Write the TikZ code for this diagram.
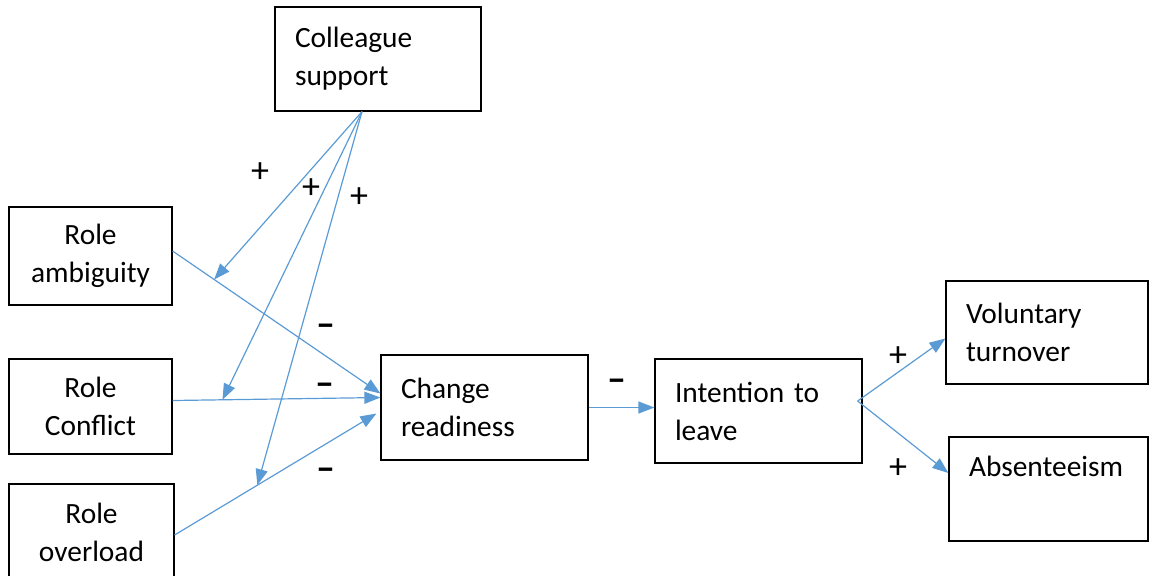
\documentclass[tikz,border=0pt]{standalone}
\usepackage{fontspec}
\setmainfont{Carlito}
\usepackage{tikz}
\usetikzlibrary{arrows.meta, calc}
\definecolor{linkblue}{HTML}{5B9BD5}
\tikzstyle{box} = [rectangle, draw, line width=0.6pt, inner xsep=10pt, inner ysep=0pt, font=\fontsize{14.7}{19}\selectfont]
\tikzstyle{leftbox} = [box, inner xsep=2pt, align=center]
\tikzstyle{textbox} = [box, align=left]
\tikzstyle{arrow} = [linkblue, line width=0.6pt, -{Triangle[length=8pt,width=6pt]}]
\tikzstyle{plus} = [inner sep=0pt, font=\fontsize{18}{19}\selectfont]
\tikzstyle{minus} = [inner sep=0pt, font=\fontsize{19}{19}\selectfont\bfseries]

\begin{document}
\begin{tikzpicture}[x=0.5pt, y=-0.5pt]
  \useasboundingbox (0,0) rectangle (1149,575);
  \node (cs) [textbox, text width=83pt, minimum height=52pt] at (378,59) {Colleague\\support};
  \node (ra) [leftbox, minimum width=81.5pt, minimum height=49pt] at (90.5,256) {Role\\ambiguity};
  \node (rc) [leftbox, minimum width=81.5pt, minimum height=47.5pt] at (90.5,406.5) {Role\\Conflict};
  \node (rov) [leftbox, minimum width=82.5pt, minimum height=48pt] at (91.5,532) {Role\\overload};
  \node (cr) [textbox, text width=83.5pt, minimum height=52.5pt] at (484.5,407.5) {Change\\readiness};
  \node (il) [textbox, text width=83.5pt, minimum height=52pt] at (758.5,411) {Intention to\\leave};
  \node (vt) [textbox, text width=81pt, minimum height=51.5pt] at (1047,332.5) {Voluntary\\turnover};
  \node (ab) [textbox, text width=79.5pt, minimum height=52pt, text depth=22.5pt] at (1048.5,489) {Absenteeism};

  \coordinate (csout) at ([xshift=-8pt]cs.south);
  \coordinate (split) at ([xshift=-2.5pt, yshift=5pt]il.east);

  \draw [arrow] ([yshift=2.5pt]ra.east) -- ([yshift=7pt]cr.west) coordinate[pos=0.2] (ma);
  \draw [arrow] ([yshift=3pt]rc.east) -- ([yshift=5pt]cr.west) coordinate[pos=0.24] (mc);
  \draw [arrow] ([yshift=-1.5pt]rov.east) -- ([xshift=-2pt, yshift=-3pt]cr.west) coordinate[pos=0.41] (mo);
  \draw [arrow] (csout) -- (ma);
  \draw [arrow] (csout) -- (mc);
  \draw [arrow] (csout) -- (mo);
  \draw [arrow] (cr.east) -- (cr.east -| il.west);
  \draw [arrow] (split) -- ([yshift=-3pt]vt.west);
  \draw [arrow] (split) -- ([yshift=8pt]ab.west);

  \node (p1) [plus] at (260,173) {+};
  \node (p2) [plus] at (311,189) {+};
  \node (p3) [plus] at (359,198) {+};
  \node (n1) [minus] at (326,330) {--};
  \node (n2) [minus] at (325,389) {--};
  \node (n3) [minus] at (326,474) {--};
  \node (n4) [minus] at (617,385) {--};
  \node (p4) [plus] at (898,357) {+};
  \node (p5) [plus] at (898,469) {+};
\end{tikzpicture}
\end{document}
